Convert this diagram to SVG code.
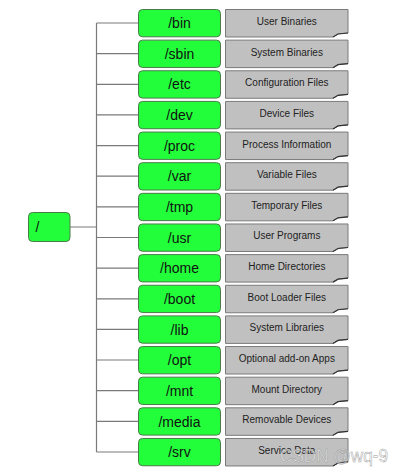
<svg xmlns="http://www.w3.org/2000/svg" xmlns:xlink="http://www.w3.org/1999/xlink" width="405" height="475" viewBox="0 0 405 475">
<style>
.g{fill:#22ff3a;stroke:#4a7a4a;stroke-width:1}
.gt{font-family:"Liberation Sans",Arial,sans-serif;font-size:14px;fill:#111;text-anchor:middle}
.n{fill:#c0c0c0;stroke:#7a7a7a;stroke-width:1}
.nt{font-family:"Liberation Sans",Arial,sans-serif;font-size:10px;fill:#222;text-anchor:middle}
.c{fill:none;stroke:#7a7a7a;stroke-width:1.2}
.wm{font-family:"Liberation Sans",Arial,sans-serif;font-size:19px;fill:#ffffff;fill-opacity:0.6;stroke:#9a9a9a;stroke-width:0.5}
</style>
<defs>
<g id="note">
<path class="n" d="M0,0 H122.5 V23.5 L113,24.3 L107.5,27.5 H0 Z"/>
<path d="M107.5,27.5 L112.5,24.5 L122.5,23.5" fill="none" stroke="#333" stroke-width="1.2"/>
</g>
</defs>
<g id="connectors">
<path class="c" d="M70,227 H96.5 M96.5,23 V452 M96.5,23 H138.5 M96.5,53.6 H138.5 M96.5,84.3 H138.5 M96.5,114.9 H138.5 M96.5,145.6 H138.5 M96.5,176.2 H138.5 M96.5,206.8 H138.5 M96.5,237.5 H138.5 M96.5,268.1 H138.5 M96.5,298.8 H138.5 M96.5,329.4 H138.5 M96.5,360 H138.5 M96.5,390.7 H138.5 M96.5,421.3 H138.5 M96.5,452 H138.5"/>
</g>
<g id="root"><rect class="g" x="28.5" y="212.5" width="41.5" height="29" rx="4"/><text class="gt" x="35.5" y="232" style="text-anchor:start">/</text></g>
<g id="bin" transform="translate(0,9.5)"><rect class="g" x="138.5" y="0" width="82" height="27.3" rx="4"/><text class="gt" x="179.5" y="18.7">/bin</text><use xlink:href="#note" x="225.5" y="0"/><text class="nt" x="286.8" y="15.5">User Binaries</text></g>
<g id="sbin" transform="translate(0,40.14)"><rect class="g" x="138.5" y="0" width="82" height="27.3" rx="4"/><text class="gt" x="179.5" y="18.7">/sbin</text><use xlink:href="#note" x="225.5" y="0"/><text class="nt" x="286.8" y="15.5">System Binaries</text></g>
<g id="etc" transform="translate(0,70.78)"><rect class="g" x="138.5" y="0" width="82" height="27.3" rx="4"/><text class="gt" x="179.5" y="18.7">/etc</text><use xlink:href="#note" x="225.5" y="0"/><text class="nt" x="286.8" y="15.5">Configuration Files</text></g>
<g id="dev" transform="translate(0,101.42)"><rect class="g" x="138.5" y="0" width="82" height="27.3" rx="4"/><text class="gt" x="179.5" y="18.7">/dev</text><use xlink:href="#note" x="225.5" y="0"/><text class="nt" x="286.8" y="15.5">Device Files</text></g>
<g id="proc" transform="translate(0,132.06)"><rect class="g" x="138.5" y="0" width="82" height="27.3" rx="4"/><text class="gt" x="179.5" y="18.7">/proc</text><use xlink:href="#note" x="225.5" y="0"/><text class="nt" x="286.8" y="15.5">Process Information</text></g>
<g id="var" transform="translate(0,162.7)"><rect class="g" x="138.5" y="0" width="82" height="27.3" rx="4"/><text class="gt" x="179.5" y="18.7">/var</text><use xlink:href="#note" x="225.5" y="0"/><text class="nt" x="286.8" y="15.5">Variable Files</text></g>
<g id="tmp" transform="translate(0,193.34)"><rect class="g" x="138.5" y="0" width="82" height="27.3" rx="4"/><text class="gt" x="179.5" y="18.7">/tmp</text><use xlink:href="#note" x="225.5" y="0"/><text class="nt" x="286.8" y="15.5">Temporary Files</text></g>
<g id="usr" transform="translate(0,223.98)"><rect class="g" x="138.5" y="0" width="82" height="27.3" rx="4"/><text class="gt" x="179.5" y="18.7">/usr</text><use xlink:href="#note" x="225.5" y="0"/><text class="nt" x="286.8" y="15.5">User Programs</text></g>
<g id="home" transform="translate(0,254.62)"><rect class="g" x="138.5" y="0" width="82" height="27.3" rx="4"/><text class="gt" x="179.5" y="18.7">/home</text><use xlink:href="#note" x="225.5" y="0"/><text class="nt" x="286.8" y="15.5">Home Directories</text></g>
<g id="boot" transform="translate(0,285.26)"><rect class="g" x="138.5" y="0" width="82" height="27.3" rx="4"/><text class="gt" x="179.5" y="18.7">/boot</text><use xlink:href="#note" x="225.5" y="0"/><text class="nt" x="286.8" y="15.5">Boot Loader Files</text></g>
<g id="lib" transform="translate(0,315.9)"><rect class="g" x="138.5" y="0" width="82" height="27.3" rx="4"/><text class="gt" x="179.5" y="18.7">/lib</text><use xlink:href="#note" x="225.5" y="0"/><text class="nt" x="286.8" y="15.5">System Libraries</text></g>
<g id="opt" transform="translate(0,346.54)"><rect class="g" x="138.5" y="0" width="82" height="27.3" rx="4"/><text class="gt" x="179.5" y="18.7">/opt</text><use xlink:href="#note" x="225.5" y="0"/><text class="nt" x="286.8" y="15.5">Optional add-on Apps</text></g>
<g id="mnt" transform="translate(0,377.18)"><rect class="g" x="138.5" y="0" width="82" height="27.3" rx="4"/><text class="gt" x="179.5" y="18.7">/mnt</text><use xlink:href="#note" x="225.5" y="0"/><text class="nt" x="286.8" y="15.5">Mount Directory</text></g>
<g id="media" transform="translate(0,407.82)"><rect class="g" x="138.5" y="0" width="82" height="27.3" rx="4"/><text class="gt" x="179.5" y="18.7">/media</text><use xlink:href="#note" x="225.5" y="0"/><text class="nt" x="286.8" y="15.5">Removable Devices</text></g>
<g id="srv" transform="translate(0,438.46)"><rect class="g" x="138.5" y="0" width="82" height="27.3" rx="4"/><text class="gt" x="179.5" y="18.7">/srv</text><use xlink:href="#note" x="225.5" y="0"/><text class="nt" x="286.8" y="15.5">Service Data</text></g>
<text class="wm" x="280" y="461.5" textLength="108" lengthAdjust="spacingAndGlyphs">CSDN @wq-9</text>
</svg>
